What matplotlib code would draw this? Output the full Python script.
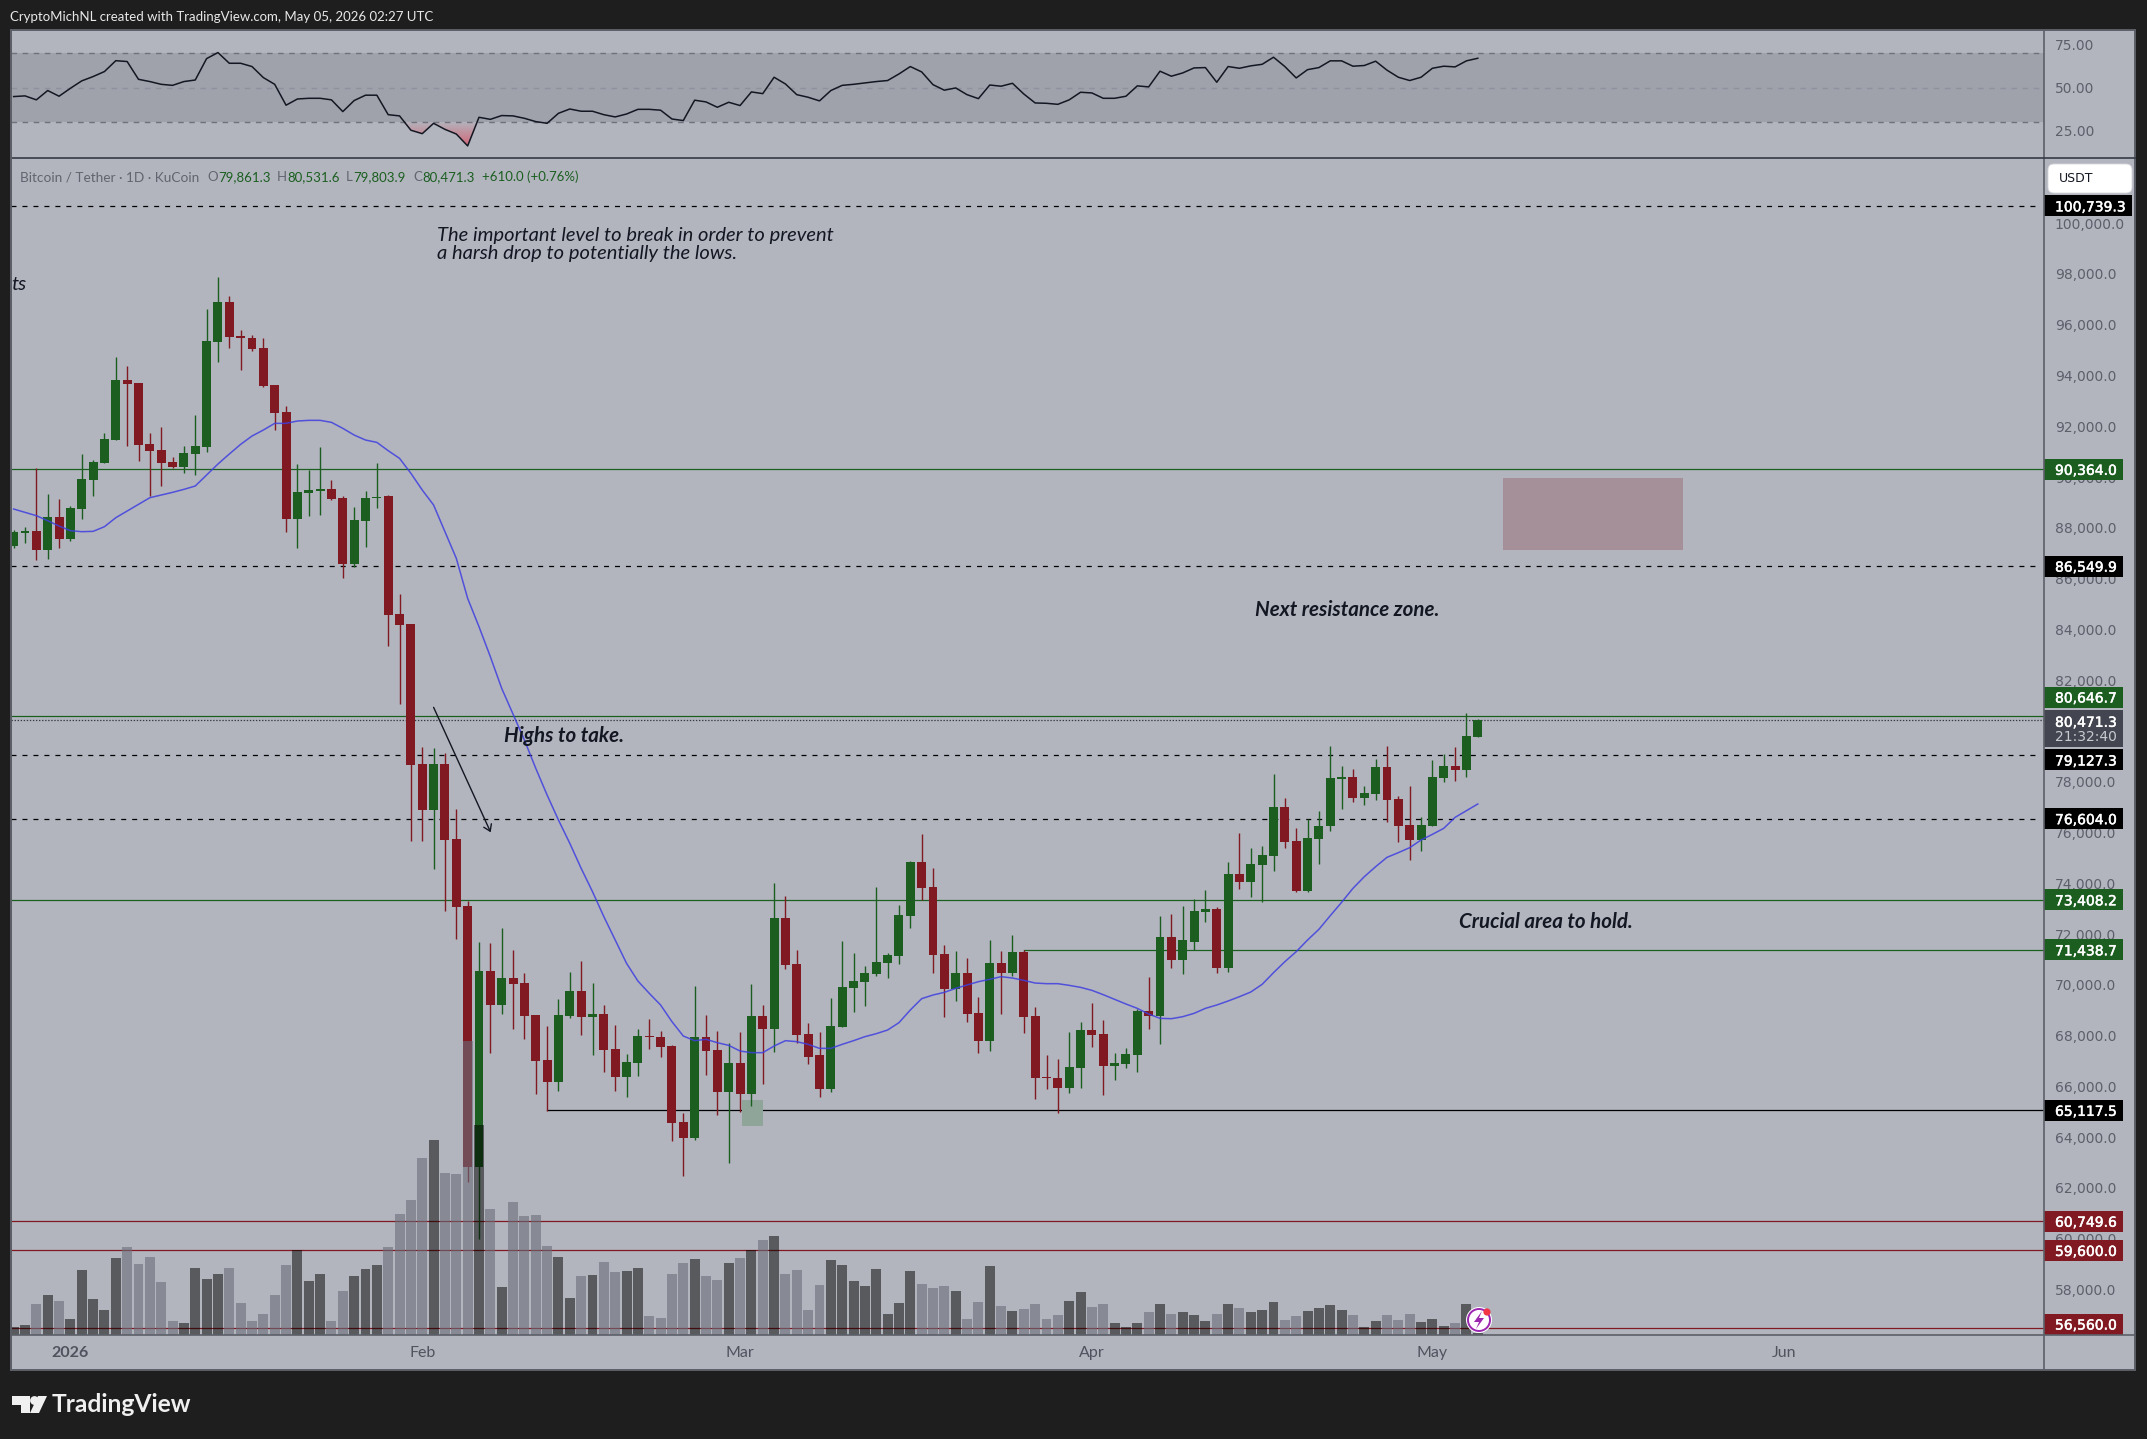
import matplotlib
matplotlib.use("Agg")
import matplotlib.pyplot as plt
from matplotlib.patches import Rectangle, Circle, Polygon, FancyBboxPatch
from matplotlib.colors import LinearSegmentedColormap
from matplotlib.transforms import ScaledTranslation
import matplotlib.patheffects as pe
import numpy as np

plt.rcParams['lines.scale_dashes'] = False

W, H = 2147, 1439
BG = '#1e1e1e'; PANE = '#b2b5be'; FRAME = '#5d5f68'
UP = '#1b5e20'; DOWN = '#801922'; BLACK = '#000000'; SLATE = '#434651'
TEXT_GREY = '#5d606b'
UIFONT = 'Lato'

first_day = -5
direction = ("GGRGRGGGGG" "RRRRRGGGGR" "RRRRRGGGRR" "GGGRRRRGRR" "RGRGRRRRGG"
             "RGRRGGRRRR" "GRRGRGRGRR" "RRGGGGGGGG" "RRRGRRGRGR" "RRRGGRRGGG"
             "RGRGGGRGRG" "GGRRGGGGRG" "GRRRGGGRGG")

body_top = [87894,87933,87933,88485,88485,88839,89981,90638,91557,93881,
            93881,93763,91360,91124,90651,91005,91281,95417,96953,96953,
            95614,95535,95141,93684,92620,89469,89548,89588,89588,89233,
            88367,89233,89272,89312,84664,84270,78757,78757,78757,75803,
            73164,70604,70604,70329,70329,70132,68871,67099,68871,69816,
            69816,68910,68910,67532,67020,68044,68044,68005,67650,64657,
            68005,68005,67506,66980,66980,68832,68832,72692,72692,70880,
            68123,67296,68438,69974,70210,70525,70958,71234,72810,74897,
            74897,73913,71273,70525,70525,68950,70919,70919,71352,71352,
            68831,66429,66389,66823,68280,68280,68122,66980,67335,69028,
            69028,71943,71943,71825,72967,73046,73046,74424,74425,74819,
            75173,77064,77064,75725,75843,76315,78206,78245,78245,77615,
            78639,78639,77379,76355,76355,78245,78679,78679,79860,80490]
body_bot = [87342,87868,87198,87198,87631,87631,88813,89955,90625,91531,
            93736,91334,91097,90625,90467,90467,90979,91255,95391,95587,
            95548,95115,93657,92594,88419,88419,89443,89522,89207,86647,
            86647,88340,89233,84638,84244,78731,76959,76959,75777,73138,
            62890,62890,69278,69278,70105,68845,67072,66245,66245,68832,
            68806,68806,67506,66442,66442,66994,68005,67624,64631,64039,
            64039,67466,65852,65852,65773,65773,68333,68333,70854,68096,
            67230,65970,65970,68412,69948,70184,70486,70932,71208,72784,
            73886,71247,69908,69908,68923,67860,67860,70525,70525,68805,
            66403,66389,66009,66009,66796,68096,66875,66875,66954,67308,
            68845,68845,71050,71050,71746,72941,70735,70735,74110,74110,
            74779,75134,75685,73768,73768,75803,76315,78167,77418,77418,
            77576,77339,76315,75764,75764,76315,78206,78521,78521,79821]
highs = [87973,88091,90401,89391,89194,88918,90953,90717,91793,94787,
         94432,93763,91793,92029,90848,91281,92502,96677,97938,97189,
         95850,95653,95535,93684,92857,90572,90336,91242,89942,89312,
         88879,89509,90612,89351,85452,84270,79427,79387,79190,76985,
         73361,71746,71707,72298,71431,70525,68871,68438,69501,70565,
         70998,70132,69265,68477,67335,68320,68714,68241,67689,65011,
         70013,68871,68241,67768,68202,70092,69265,74070,73558,71431,
         68556,68202,69541,71786,71313,70801,73913,71313,73204,74937,
         76000,74661,71628,71392,71116,69580,71825,71392,72022,71431,
         69186,67295,67138,68201,68595,69343,68674,67374,67571,69107,
         70367,72770,72849,73164,73440,73794,73125,74897,76040,75449,
         75528,78363,77418,76236,76591,76906,79466,78679,78560,77891,
         78954,79466,77497,77891,76670,78915,79151,79427,80766,80530]
lows = [87277,87474,86804,86843,87277,87552,88419,89325,90625,91531,
        91294,90704,89325,89719,90428,90231,90152,91058,94603,95154,
        94288,95036,93618,91924,87907,87277,88537,88577,89154,86095,
        86529,87316,88852,83417,81132,75738,75738,74635,72980,71878,
        62300,60048,67388,68924,68333,67939,65773,65103,65891,68766,
        68096,67309,66639,65891,65654,66482,67545,67230,63921,62543,
        63961,66521,64946,63055,65064,65300,66167,67427,70696,67781,
        66954,65654,65852,68412,69002,69239,70407,70329,70880,72298,
        73401,70525,68805,69435,68608,67387,67466,68923,70420,68175,
        65575,65969,65024,65812,66009,67624,65733,66324,66796,66639,
        68333,67742,70735,70499,71431,72547,70538,70578,73834,73532,
        73335,74543,75449,73700,73728,74819,76118,76985,77261,77143,
        77339,76473,75685,74976,75331,76315,78048,78088,78245,79804]
ma_line = [88800,88668,88537,88340,88130,87946,87907,87920,88104,88458,
           88721,88984,89246,89351,89456,89574,89706,90139,90572,90966,
           91347,91675,91911,92174,92174,92266,92292,92292,92213,91977,
           91714,91517,91425,91097,90795,90205,89548,88957,87907,86857,
           85281,84165,82984,81736,80720,79703,78587,77536,76552,75633,
           74648,73729,72744,71825,70906,70210,69725,69265,68609,68044,
           67860,67913,67781,67676,67453,67388,67388,67650,67860,67821,
           67716,67558,67558,67716,67860,68018,68136,68280,68569,69068,
           69514,69659,69763,69921,70052,70184,70276,70381,70328,70236,
           70131,70105,70105,70039,69960,69842,69672,69488,69304,69133,
           68910,68740,68726,68805,68936,69133,69265,69422,69593,69777,
           70079,70538,70971,71365,71825,72245,72783,73308,73860,74319,
           74713,75081,75265,75462,75764,75987,76223,76656,76919,77182]
volume = [8,10,31,40,34,16,65,36,25,77,
          88,71,78,53,14,12,67,56,61,67,
          32,14,21,40,70,85,54,61,14,44,
          59,66,70,88,121,135,177,195,162,161,
          294,210,126,48,133,119,120,89,78,37,
          59,60,73,63,64,67,19,17,61,72,
          76,59,55,72,77,85,95,99,61,65,
          25,50,75,70,54,49,66,21,32,64,
          51,47,49,44,16,33,69,29,24,26,
          31,16,20,34,43,28,31,12,8,12,
          23,31,21,23,20,14,21,31,27,23,
          25,33,15,19,24,27,30,25,20,8,
          14,20,15,21,13,16,9,12,31,2]
rsi = [44.9,45.3,43.0,48.4,45.1,49.7,54.0,56.5,59.4,65.7,
       65.2,54.9,53.6,52.0,51.4,53.6,54.5,66.9,70.4,64.2,
       64.2,62.3,55.9,52.0,39.9,43.5,43.9,43.9,43.0,36.2,
       42.6,45.7,45.7,34.4,33.7,25.4,23.4,29.4,25.9,23.2,
       16.3,32.9,31.7,33.9,33.7,32.3,30.4,29.4,35.2,37.7,
       36.4,36.4,34.4,33.1,34.8,37.5,37.5,37.0,31.9,31.0,
       42.8,41.8,38.7,41.6,39.7,47.6,46.6,56.1,52.2,46.0,
       44.5,42.4,48.4,51.4,52.0,52.8,53.6,54.2,58.0,62.3,
       59.2,51.8,48.6,49.9,46.0,43.7,51.6,50.9,52.6,46.4,
       41.2,41.0,40.4,43.0,47.4,47.0,43.9,43.9,45.1,51.1,
       50.5,59.6,56.7,58.6,61.5,61.7,53.2,62.3,61.3,62.7,
       63.6,67.7,62.3,55.7,60.5,61.7,65.6,65.6,62.5,62.9,
       65.4,60.2,56.1,54.2,56.1,61.3,62.5,62.1,65.6,67.1]
for s in (direction, body_top, body_bot, highs, lows, ma_line, volume, rsi):
    assert len(s) == 130, len(s)

price_ticks = list(range(58000, 100001, 2000))
rsi_ticks = [25, 50, 75]
month_pos = [0, 31, 59, 90, 120, 151]
month_lab = ['2026', 'Feb', 'Mar', 'Apr', 'May', 'Jun']

dashed_levels = [100739.3, 86549.9, 79127.3, 76604.0]
green_levels = [90364.0, 80646.7, 73408.2]
green_partial = (84, 71438.7)
black_partial = (42, 65117.5)
red_levels = [60749.6, 59600.0, 56560.0]
last_close = 80471.3

tag_labels = ['100,739.3', '90,364.0', '86,549.9', '80,646.7', '79,127.3', '76,604.0',
              '73,408.2', '71,438.7', '65,117.5', '60,749.6', '59,600.0', '56,560.0']
tag_centre = [100739.3, 90364.0, 86549.9, 81396, 78915, 76604.0,
              73408.2, 71438.7, 65117.5, 60749.6, 59600.0, 56700]
tag_color = [BLACK, UP, BLACK, UP, BLACK, BLACK, UP, UP, BLACK, DOWN, DOWN, DOWN]

def fx(px): return px / W
def fy(py): return 1 - py / H
def box(x0, y0, x1, y1): return [fx(x0), fy(y1), fx(x1) - fx(x0), fy(y0) - fy(y1)]

fig = plt.figure(figsize=(W / 100, H / 100), dpi=100, facecolor=BG)

# chrome behind everything
back = fig.add_axes([0, 0, 1, 1], zorder=-5)
back.set_xlim(0, W); back.set_ylim(H, 0); back.axis('off')
back.add_patch(Rectangle((11, 30), 2124, 1340, fc=PANE, ec=FRAME, lw=1.4))

X_L, X_R = 11, 2044
i_left = (X_L - 70.4) / 11.35
i_right = (X_R - 70.4) / 11.35
days = np.arange(first_day, first_day + 130)
ups = np.array([c == 'G' for c in direction])
colors = [UP if u else DOWN for u in ups]

# RSI pane
ar = fig.add_axes(box(X_L, 31, X_R, 158), facecolor='none')
ar.set_xlim(i_left, i_right); ar.set_ylim(9.3, 82.9)
ar.axhspan(30, 70, fc='#9fa2ab', lw=0, zorder=1)
ar.axhline(70, color='#6f727d', lw=1, ls=(0, (4, 4)), zorder=2)
ar.axhline(50, color='#8f929c', lw=1, ls=(0, (4, 4)), zorder=2)
ar.axhline(30, color='#6f727d', lw=1, ls=(0, (4, 4)), zorder=2)
rsi_a = np.array(rsi)
poly = ar.fill_between(days, rsi_a, 30, where=rsi_a < 30, interpolate=True,
                       color='none', lw=0, zorder=2)
cmap = LinearSegmentedColormap.from_list('oversold', [(0.85, 0.35, 0.42, 0.0), (0.85, 0.35, 0.42, 0.85)])
im = ar.imshow(np.linspace(0, 1, 64).reshape(-1, 1), extent=[i_left, i_right, 30, 16], origin='lower',
               aspect='auto', cmap=cmap, zorder=2.2)
im.set_clip_path(poly.get_paths()[0], transform=ar.transData)
ar.set_xlim(i_left, i_right); ar.set_ylim(9.3, 82.9)
ar.plot(days, rsi_a, color='#131722', lw=1.1, zorder=3)
ar.set_xticks([])
ar.yaxis.tick_right()
ar.set_yticks(rsi_ticks, [f'{v:.2f}' for v in rsi_ticks])
ar.tick_params(axis='y', length=0, pad=7.8, labelsize=10, labelcolor=TEXT_GREY)
for s in ar.spines.values(): s.set_visible(False)

# main pane
ax = fig.add_axes(box(X_L, 158, X_R, 1335), facecolor='none')
ax.set_xlim(i_left, i_right); ax.set_ylim(56268, 102625)
for lv in dashed_levels:
    ax.plot([i_left, i_right - 0.4], [lv, lv], color='black', lw=0.9, ls=(0, (3.6, 4.3)), zorder=1)
for lv in green_levels:
    ax.axhline(lv, color=UP, lw=0.9, zorder=1)
ax.plot([green_partial[0], i_right], [green_partial[1]] * 2, color=UP, lw=0.9, zorder=1)
ax.plot([black_partial[0], i_right], [black_partial[1]] * 2, color='black', lw=0.9, zorder=1)
for lv in red_levels:
    ax.axhline(lv, color=DOWN, lw=0.9, zorder=1)
ax.axhline(last_close, color='#363a45', lw=0.9, ls=(0, (1, 1.2)), zorder=1)

ax.add_patch(Rectangle((126.2, 87186), 15.9, 2835, fc='#a58f99', lw=0, zorder=1.5))
ax.add_patch(Rectangle((59.2, 64499), 1.85, 1024, fc='#90a59a', lw=0, zorder=1.5))

ax.vlines(days, lows, highs, colors=colors, lw=1.0, zorder=2)
ax.bar(days, np.array(body_top) - np.array(body_bot), bottom=body_bot, width=0.79,
       color=colors, lw=0, zorder=2.1)
ax.plot(days, ma_line, color='#3f3fe0', lw=1.1, alpha=0.85, zorder=3)

ax.annotate('', xy=(37.03, 76066), xytext=(32.0, 80989), zorder=3,
            arrowprops=dict(arrowstyle='->,head_length=0.45,head_width=0.3', lw=1, color='#131722',
                            shrinkA=0, shrinkB=0))

ax.set_xticks(month_pos, month_lab)
ax.tick_params(axis='x', length=0, pad=8, labelsize=11.5, labelcolor='#50535e')
for lab in ax.get_xticklabels():
    lab.set_fontfamily(UIFONT)
ax.get_xticklabels()[0].set_fontweight('bold')
for s in ax.spines.values(): s.set_visible(False)

# volume
av = ax.twinx()
av.set_ylim(0, 1177)
av.bar(days, volume, width=0.88, lw=0, zorder=4,
       color=[(0, 0, 0, 0.5) if u else (0.42, 0.43, 0.478, 0.6) for u in ups])
av.set_yticks([]); av.patch.set_visible(False)
for s in av.spines.values(): s.set_visible(False)
ax.yaxis.tick_right()
ax.set_yticks(price_ticks, [f'{v:,.1f}' for v in price_ticks])
ax.tick_params(axis='y', left=False, labelleft=False, right=False, labelright=True,
               length=0, pad=7.8, labelsize=10, labelcolor=TEXT_GREY)
lift = ScaledTranslation(0, 1.5 / 100, fig.dpi_scale_trans)
for lab in ax.get_yticklabels():
    lab.set_transform(lab.get_transform() + lift)
for lab in ar.get_yticklabels():
    lab.set_transform(lab.get_transform() + ScaledTranslation(0, 0.5 / 100, fig.dpi_scale_trans))

# annotations
ital = dict(family=UIFONT, style='italic', color='#131722', zorder=6)
front = fig.add_axes([0, 0, 1, 1], zorder=10, facecolor='none')
front.set_xlim(0, W); front.set_ylim(H, 0); front.axis('off')
front.text(437, 235.5, 'The important level to break in order to prevent', fontsize=14.5, va='center', **ital)
front.text(437, 253.5, 'a harsh drop to potentially the lows.', fontsize=14.5, va='center', **ital)
front.text(504, 736.5, 'Highs to take.', fontsize=14.8, weight='bold', va='center', **ital)
front.text(1255, 610.5, 'Next resistance zone.', fontsize=14.8, weight='bold', va='center', **ital)
front.text(1459, 921.5, 'Crucial area to hold.', fontsize=14.8, weight='bold', va='center', **ital)
front.text(11, 285, 'ts', fontsize=14.5, va='center', **ital)

# frame lines
front.plot([X_R, X_R], [30, 1370], color=FRAME, lw=1.2)
front.plot([X_L, 2135], [158, 158], color='#363a45', lw=1.2)
front.plot([X_L, 2135], [1335, 1335], color=FRAME, lw=1.2)
front.plot([X_L, X_L], [30, 1370], color=FRAME, lw=1.4)

# header, legend line
front.text(10, 17, 'CryptoMichNL created with TradingView.com, May 05, 2026 02:27 UTC',
           color='#e8e8e8', fontsize=9.55, family=UIFONT, va='center')
front.text(20, 177, 'Bitcoin / Tether · 1D · KuCoin', color='#62656f', fontsize=9.8, family=UIFONT, va='center')
for x, a, b in [(207, 'O', '79,861.3'), (277, 'H', '80,531.6'), (346, 'L', '79,803.9'), (413, 'C', '80,471.3')]:
    t = front.text(x, 177, a, color='#62656f', fontsize=9.5, family=UIFONT, va='center')
    front.annotate(b, xy=(1, 0), xycoords=t, xytext=(0.3, 0), textcoords='offset points',
                   color=UP, fontsize=9.5, family=UIFONT, va='bottom')
front.text(482, 177, '+610.0 (+0.76%)', color=UP, fontsize=9.5, family=UIFONT, va='center')

# price scale tags (drawn on a scale axes that shares the price range)
tagax = fig.add_axes(box(X_R, 158, 2135, 1335), facecolor='none', zorder=8)
tagax.set_xlim(0, 91); tagax.set_ylim(56268, 102625); tagax.axis('off')
h = 21 * 39.386
heavy = [pe.withStroke(linewidth=0.35, foreground='white')]
for lab, c, col in zip(tag_labels, tag_centre, tag_color):
    wid = 88 if lab.startswith('100') else 79
    tagax.add_patch(Rectangle((0, c - h / 2), wid, h, fc=col, lw=0))
    tagax.text(11, c, lab, color='white', fontsize=10, va='center_baseline', ha='left', path_effects=heavy)
tagax.add_patch(Rectangle((0, 79430), 79, 1457, fc=SLATE, lw=0, zorder=3))
tagax.text(11, 80440, '80,471.3', color='white', fontsize=10, va='center_baseline', zorder=4, path_effects=heavy)
tagax.text(11, 79870, '21:32:40', color='#c8cad0', fontsize=10, va='center_baseline', zorder=4)

# USDT button
front.add_patch(FancyBboxPatch((2051, 167), 78, 23, boxstyle='round,pad=3,rounding_size=6', fc='white', ec='#d8d8dc', lw=0.6))
front.text(2059, 179, 'USDT', color='#131722', fontsize=9, family='DejaVu Sans', va='center')

# badge
front.add_patch(Circle((1479, 1320), 13, fc='white', ec='none'))
front.add_patch(Circle((1479, 1320), 11, fc='white', ec='#9c27b0', lw=1.4))
front.add_patch(Polygon([(1482, 1311), (1474, 1322), (1479, 1322), (1476, 1329), (1484, 1318), (1479, 1318)],
                        fc='#9c27b0', ec='none'))
front.add_patch(Circle((1487, 1312), 3.6, fc='#f23645', ec='none'))

# TradingView mark
front.add_patch(Polygon([(12, 1396), (30, 1396), (30, 1413), (21, 1413), (21, 1405), (12, 1405)], fc='#f0f0f0', ec='none'))
front.add_patch(Circle((34.5, 1400.5), 4.4, fc='#f0f0f0', ec='none'))
front.add_patch(Polygon([(38, 1396), (47, 1396), (39, 1413), (30, 1413)], fc='#f0f0f0', ec='none'))
front.text(52, 1405, 'TradingView', color='#f0f0f0', fontsize=17.7, family=UIFONT, weight='bold', va='center')

fig.savefig('out.png', dpi=100, facecolor=BG)
